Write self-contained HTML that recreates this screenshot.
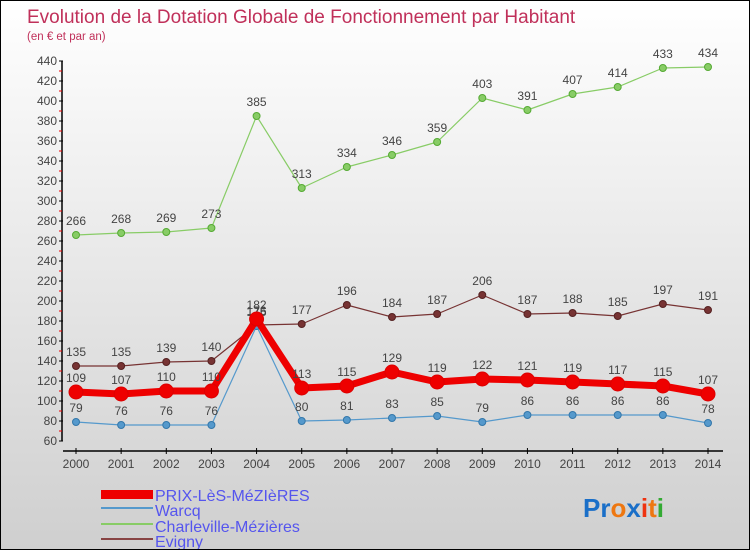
<!DOCTYPE html>
<html><head><meta charset="utf-8"><style>
body{margin:0}
#c{position:relative;width:748px;height:548px;border:1px solid #000;background:linear-gradient(#ffffff,#cfcfcf);font-family:"Liberation Sans",sans-serif;overflow:hidden}
svg text{font-family:"Liberation Sans",sans-serif}
</style></head><body>
<div id="c">
<svg id="s" width="748" height="548">
<text x="26" y="22" font-size="19" fill="#c0305a">Evolution de la Dotation Globale de Fonctionnement par Habitant</text>
<text x="26" y="39" font-size="11.5" fill="#c0305a">(en € et par an)</text>
<g id="ax"></g><g id="ser"></g>
<g>
<rect x="100" y="489" width="52" height="9" fill="#ee0000"/>
<text x="154" y="500" font-size="16" fill="#5555ee">PRIX-LèS-MéZIèRES</text>
<rect x="100" y="506" width="52" height="2" fill="#5599cc"/>
<text x="154" y="515" font-size="16" fill="#5555ee">Warcq</text>
<rect x="100" y="522" width="52" height="2" fill="#88cc66"/>
<text x="154" y="531" font-size="16" fill="#5555ee">Charleville-Mézières</text>
<rect x="100" y="537" width="52" height="2" fill="#884444"/>
<text x="154" y="546" font-size="16" fill="#5555ee">Evigny</text>
</g>
<text x="582" y="516" font-size="26" font-weight="bold"><tspan fill="#1a6fc8">Pr</tspan><tspan fill="#ee7711">o</tspan><tspan fill="#1a6fc8">x</tspan><tspan fill="#ee3311">i</tspan><tspan fill="#ee7711">t</tspan><tspan fill="#33aa33">i</tspan></text>
</svg></div>
<script>
const years=[2000,2001,2002,2003,2004,2005,2006,2007,2008,2009,2010,2011,2012,2013,2014];
const prix=[109,107,110,110,182,113,115,129,119,122,121,119,117,115,107];
const warcq=[79,76,76,76,175,80,81,83,85,79,86,86,86,86,78];
const charleville=[266,268,269,273,385,313,334,346,359,403,391,407,414,433,434];
const evigny=[135,135,139,140,176,177,196,184,187,206,187,188,185,197,191];
const yTicks=[60,80,100,120,140,160,180,200,220,240,260,280,300,320,340,360,380,400,420,440];
const NS="http://www.w3.org/2000/svg";
const X=i=>75+i*(632/14), Y=v=>500-v;
function mk(p,t,a){const e=document.createElementNS(NS,t);for(const k in a)e.setAttribute(k,a[k]);p.appendChild(e);return e;}
const ax=document.getElementById('ax'),ser=document.getElementById('ser');
let e=mk(ax,'line',{x1:61,y1:Y(440),x2:61,y2:Y(60),stroke:'#000','stroke-width':1.5});


e=mk(ax,'line',{x1:62,y1:450,x2:722,y2:450,stroke:'#000','stroke-width':1.5});


yTicks.forEach(v=>{
 mk(ax,'line',{x1:58,y1:Y(v),x2:62,y2:Y(v),stroke:'#000'});
 if(v<440) mk(ax,'line',{x1:58,y1:Y(v+10),x2:61,y2:Y(v+10),stroke:'#e00'});
 const t=mk(ax,'text',{x:56,y:Y(v)+4,'font-size':12,fill:'#444','text-anchor':'end'});t.textContent=v;
 
 
});
years.forEach((y,i)=>{
 mk(ax,'line',{x1:X(i),y1:447,x2:X(i),y2:453,stroke:'#000'});
 const t=mk(ax,'text',{x:X(i),y:467,'font-size':12,fill:'#444','text-anchor':'middle'});t.textContent=y;
 
 
});
function series(d,name,col,w,r,dark){
 const g=mk(ser,'g',{});
 
 
 mk(g,'polyline',{points:d.map((v,i)=>X(i)+','+Y(v)).join(' '),fill:'none',stroke:col,'stroke-width':w,'stroke-linejoin':'round'});
 d.forEach((v,i)=>{
  const c=mk(g,'circle',{cx:X(i),cy:Y(v),r:r,fill:col,stroke:dark,'stroke-width':1});
  
  
  const t=mk(g,'text',{x:X(i),y:Y(v)-10,'font-size':12,fill:'#444','text-anchor':'middle'});t.textContent=v;
  
  
 });
}
series(charleville,'charleville','#88cc66',1.2,3.5,'#55aa33');
series(evigny,'evigny','#773333',1.2,3.5,'#552222');
series(warcq,'warcq','#5599cc',1.2,3.5,'#3377aa');
series(prix,'prix','#ee0000',7,7,'#dd0000');
</script>
</body></html>
